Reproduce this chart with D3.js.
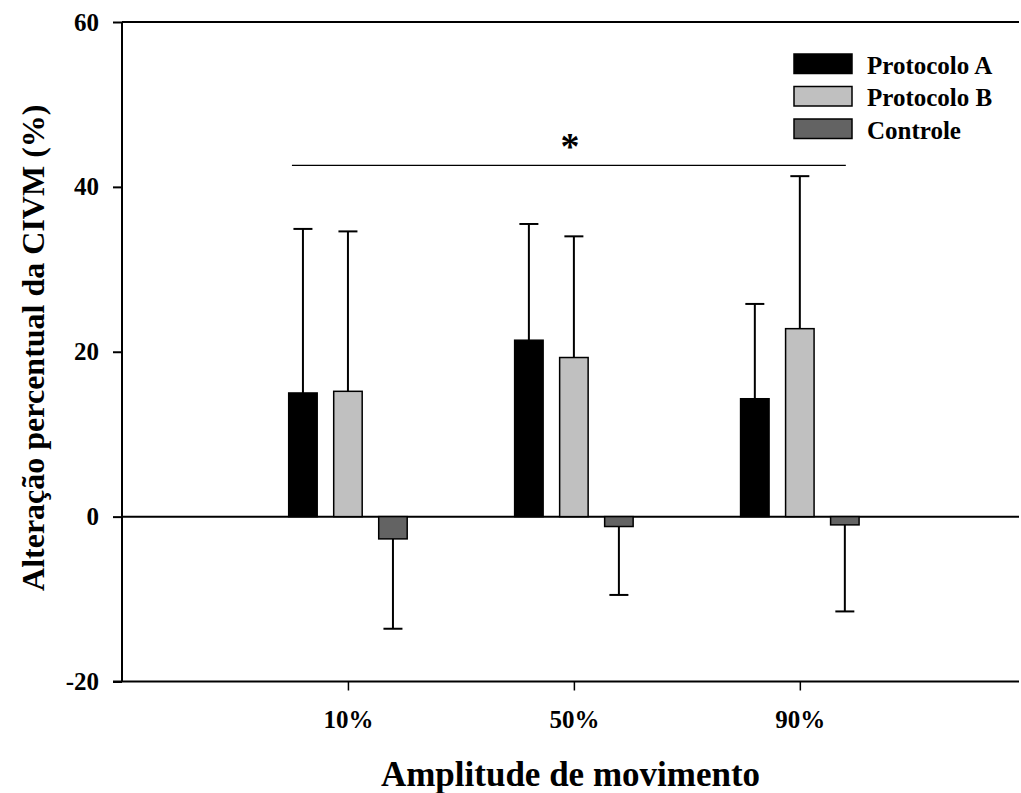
<!DOCTYPE html>
<html>
<head>
<meta charset="utf-8">
<script src="https://cdnjs.cloudflare.com/ajax/libs/d3/7.8.5/d3.min.js"></script>
<style>
  html, body { margin: 0; padding: 0; background: #fff; }
  svg { display: block; }
  svg text { font-family: "Liberation Serif", "Times New Roman", serif; font-weight: bold; fill: #000; }
</style>
</head>
<body>
<svg id="chart" width="1021" height="793"></svg>
<script>
// ---- data ----
const categories = ["10%", "50%", "90%"];
const series = ["Protocolo A", "Protocolo B", "Controle"];
const protocoloA = [15.0, 21.4, 14.3];
const protocoloB = [15.2, 19.3, 22.8];
const controle = [-2.7, -1.2, -1.0];
const errA = [19.9, 14.1, 11.5];
const errB = [19.4, 14.7, 18.5];
const errC = [10.9, 8.3, 10.5];
const yTicks = [-20, 0, 20, 40, 60];
const yTickLabels = ["-20", "0", "20", "40", "60"];
const sigStart = "10%", sigEnd = "90%", sigValue = 42.6;

const colors = ["#000000", "#c0c0c0", "#636363"];

const rows = categories.map((c, i) => ({
  cat: c,
  vals: [
    { s: series[0], v: protocoloA[i], e: errA[i] },
    { s: series[1], v: protocoloB[i], e: errB[i] },
    { s: series[2], v: controle[i], e: errC[i] }
  ]
}));

const svg = d3.select("#chart");
const L = 122, R = 1019, T = 22, B = 681.5;

const x = d3.scaleLinear().domain([0, 3.97]).range([L, R]);
const xi = c => x(categories.indexOf(c) + 1);
const inner = d3.scaleBand().domain(series).range([-59.25, 59.25]).paddingInner(0.367);
const y = d3.scaleLinear().domain([-20, 60]).range([B, T]);

// y axis
const yAxis = d3.axisLeft(y).tickValues(yTicks).tickSize(9).tickPadding(14)
  .tickFormat(d => yTickLabels[yTicks.indexOf(d)]);
const gy = svg.append("g").attr("transform", `translate(${L},0)`).call(yAxis)
  .attr("font-family", null).attr("font-size", null);
gy.select(".domain").attr("stroke", "#000").attr("stroke-width", 2).attr("d", `M0,${y(-20)}V${y(60)}`);
gy.selectAll(".tick line").attr("stroke", "#000").attr("stroke-width", 2);
gy.selectAll(".tick text").attr("fill", "#000").style("font-size", "25px");

// x axis (bottom)
const xAxis = d3.axisBottom(x).tickValues([1, 2, 3]).tickSize(9).tickPadding(20).tickFormat(d => categories[d - 1]);
const gx = svg.append("g").attr("transform", `translate(0,${B})`).call(xAxis)
  .attr("font-family", null).attr("font-size", null);
gx.select(".domain").attr("stroke", "#000").attr("stroke-width", 2).attr("d", `M${L - 9},0H${R}`);
gx.selectAll(".tick line").attr("stroke", "#000").attr("stroke-width", 1.5);
gx.selectAll(".tick text").attr("fill", "#000").style("font-size", "25px");

// top line and zero line
svg.append("line").attr("x1", L).attr("x2", R).attr("y1", y(60)).attr("y2", y(60)).attr("stroke", "#000").attr("stroke-width", 2);
svg.append("line").attr("x1", L).attr("x2", R).attr("y1", y(0)).attr("y2", y(0)).attr("stroke", "#000").attr("stroke-width", 2);

// bars
const groups = svg.append("g").selectAll("g").data(rows).join("g")
  .attr("transform", d => `translate(${xi(d.cat)},0)`);

// error bars (one-sided)
groups.selectAll("g.err").data(d => d.vals).join("g").attr("class", "err").each(function (d) {
  const g = d3.select(this);
  const cx = inner(d.s) + inner.bandwidth() / 2;
  const end = d.v >= 0 ? d.v + d.e : d.v - d.e;
  g.append("line").attr("x1", cx).attr("x2", cx).attr("y1", y(d.v)).attr("y2", y(end)).attr("stroke", "#000").attr("stroke-width", 2);
  g.append("line").attr("x1", cx - 9.5).attr("x2", cx + 9.5).attr("y1", y(end)).attr("y2", y(end)).attr("stroke", "#000").attr("stroke-width", 2);
});

groups.selectAll("rect").data(d => d.vals).join("rect")
  .attr("x", d => inner(d.s))
  .attr("width", inner.bandwidth())
  .attr("y", d => y(Math.max(0, d.v)))
  .attr("height", d => Math.abs(y(d.v) - y(0)))
  .attr("fill", (d, i) => colors[i])
  .attr("stroke", "#000")
  .attr("stroke-width", 1.5);

// significance line
svg.append("line")
  .attr("x1", xi(sigStart) - 56).attr("x2", xi(sigEnd) + 46)
  .attr("y1", y(sigValue)).attr("y2", y(sigValue))
  .attr("stroke", "#000").attr("stroke-width", 1.2);
svg.append("text").attr("x", (xi(sigStart) + xi(sigEnd)) / 2 - 4).attr("y", y(sigValue) - 6)
  .attr("text-anchor", "middle").style("font-size", "38px").text("*");

// legend
const leg = svg.append("g").attr("transform", "translate(794,54)");
series.forEach((s, i) => {
  leg.append("rect").attr("x", 0).attr("y", i * 32.5).attr("width", 58).attr("height", 19.5)
    .attr("fill", colors[i]).attr("stroke", "#000").attr("stroke-width", 1.5);
  leg.append("text").attr("x", 73).attr("y", i * 32.5 + 19.5).style("font-size", "25px").text(s);
});

// axis titles
svg.append("text").attr("x", (L + R) / 2).attr("y", 786).attr("text-anchor", "middle")
  .style("font-size", "35px").text("Amplitude de movimento");
svg.append("text").attr("transform", `translate(44,${(y(-20) + y(60)) / 2 - 4}) rotate(-90)`)
  .attr("text-anchor", "middle").style("font-size", "32px").text("Alteração percentual da CIVM (%)");
</script>
</body>
</html>
